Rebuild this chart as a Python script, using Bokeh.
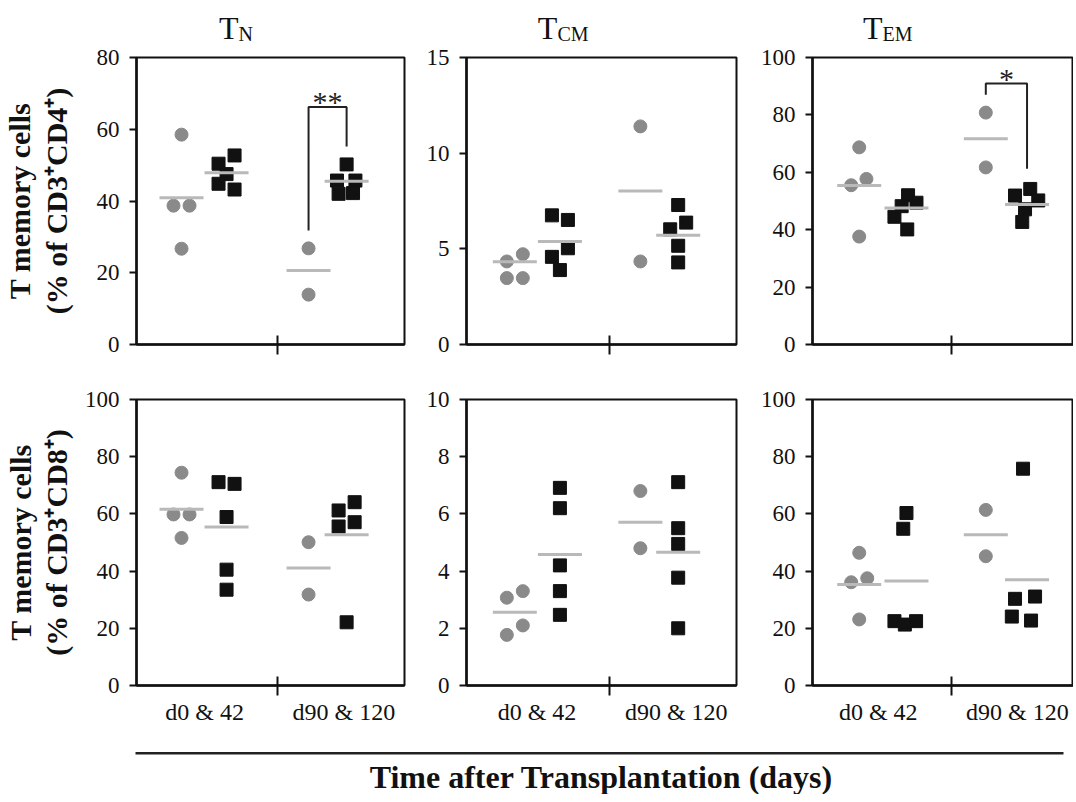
from bokeh.plotting import figure
from bokeh.layouts import column, row
from bokeh.models import Range1d, FixedTicker
from bokeh.embed import file_html
from bokeh.resources import INLINE
from bokeh.core.properties import value

# ---------------- data ----------------
group_labels = ["d0 & 42", "d90 & 120"]
subset_names = ["N", "CM", "EM"]
row_labels = ["T memory cells\n(% of CD3\u207aCD4\u207a)",
              "T memory cells\n(% of CD3\u207aCD8\u207a)"]
x_title = "Time after Transplantation (days)"

y_max = [[80, 15, 100], [100, 10, 100]]
y_ticks = [[[0, 20, 40, 60, 80], [0, 5, 10, 15], [0, 20, 40, 60, 80, 100]],
           [[0, 20, 40, 60, 80, 100], [0, 2, 4, 6, 8, 10], [0, 20, 40, 60, 80, 100]]]

# CD4+  T_N
cd4_tn_circ_d0 = [58.5, 38.7, 38.7, 26.7]
cd4_tn_sq_d0 = [52.7, 50.4, 47.5, 44.8, 43.2]
cd4_tn_circ_d90 = [26.8, 13.9]
cd4_tn_sq_d90 = [50.2, 45.7, 45.7, 42.0, 42.2]
cd4_tn_means = [40.9, 47.9, 20.6, 45.5]
# CD4+  T_CM
cd4_tcm_circ_d0 = [4.72, 4.34, 3.47, 3.47]
cd4_tcm_sq_d0 = [6.75, 6.51, 5.03, 4.58, 3.89]
cd4_tcm_circ_d90 = [11.4, 4.34]
cd4_tcm_sq_d90 = [7.29, 6.37, 6.02, 5.16, 4.29]
cd4_tcm_means = [4.32, 5.38, 8.02, 5.71]
# CD4+  T_EM
cd4_tem_circ_d0 = [68.7, 57.7, 55.5, 37.6]
cd4_tem_sq_d0 = [52.0, 49.4, 48.2, 44.5, 40.1]
cd4_tem_circ_d90 = [80.8, 61.7]
cd4_tem_sq_d90 = [54.2, 51.9, 50.2, 47.1, 42.7]
cd4_tem_means = [55.4, 47.6, 71.7, 48.8]
# CD8+  T_N
cd8_tn_circ_d0 = [74.4, 59.8, 59.8, 51.6]
cd8_tn_sq_d0 = [71.1, 70.5, 58.9, 40.5, 33.5]
cd8_tn_circ_d90 = [50.1, 31.8]
cd8_tn_sq_d90 = [64.1, 61.2, 57.1, 55.6, 22.1]
cd8_tn_means = [61.6, 55.4, 41.1, 52.7]
# CD8+  T_CM
cd8_tcm_circ_d0 = [3.30, 3.07, 2.10, 1.77]
cd8_tcm_sq_d0 = [6.91, 6.20, 4.20, 3.30, 2.47]
cd8_tcm_circ_d90 = [6.80, 4.80]
cd8_tcm_sq_d90 = [7.11, 5.50, 4.95, 3.77, 2.00]
cd8_tcm_means = [2.56, 4.58, 5.71, 4.66]
# CD8+  T_EM
cd8_tem_circ_d0 = [46.4, 37.5, 36.1, 23.1]
cd8_tem_sq_d0 = [60.3, 54.8, 22.5, 21.3, 22.5]
cd8_tem_circ_d90 = [61.4, 45.2]
cd8_tem_sq_d90 = [75.8, 31.1, 30.3, 24.1, 22.7]
cd8_tem_means = [35.3, 36.5, 52.7, 37.0]

# significance brackets: (stars, left-leg bottom, bracket top, right-leg bottom, star baseline)
sig_cd4_tn = ["**", 31.8, 66.2, 55.2, 67.6]
sig_cd4_tem = ["*", 87.0, 90.9, 61.2, 92.8]

# ---------------- layout / style (not data) ----------------
jit_cd4_tn = [[0, -1, 1, 0], [1, -1, 0, -1, 1], [0, 0], [0, -1.2, 1.1, -1, 0.8]]
jit_cd4_tcm = [[1, -1, -1, 1], [-1, 1, 1, -1, 0], [0, 0], [0, 1, -1, 0, 0]]
jit_cd4_tem = [[0, 0.9, -1, 0], [0.2, 1.25, -0.6, -1.5, 0.1], [0, 0], [0.4, -1.5, 1.4, -0.25, -0.6]]
jit_cd8_tn = [[0, -1, 1, 0], [-1, 1, 0, 0, 0], [0, 0], [1, -1, 1, -1, 0]]
jit_cd8_tcm = [[1, -1, 1, -1], [0, 0, 0, 0, 0], [0, 0], [0, 0, 0, 0, 0]]
jit_cd8_tem = [[0, 1, -1, 0], [0, -0.4, -1.5, -0.2, 1.2], [0, 0], [-0.5, 1, -1.5, -1.9, 0.5]]

panels = [
    [(cd4_tn_circ_d0, cd4_tn_sq_d0, cd4_tn_circ_d90, cd4_tn_sq_d90, cd4_tn_means, jit_cd4_tn, sig_cd4_tn),
     (cd4_tcm_circ_d0, cd4_tcm_sq_d0, cd4_tcm_circ_d90, cd4_tcm_sq_d90, cd4_tcm_means, jit_cd4_tcm, None),
     (cd4_tem_circ_d0, cd4_tem_sq_d0, cd4_tem_circ_d90, cd4_tem_sq_d90, cd4_tem_means, jit_cd4_tem, sig_cd4_tem)],
    [(cd8_tn_circ_d0, cd8_tn_sq_d0, cd8_tn_circ_d90, cd8_tn_sq_d90, cd8_tn_means, jit_cd8_tn, None),
     (cd8_tcm_circ_d0, cd8_tcm_sq_d0, cd8_tcm_circ_d90, cd8_tcm_sq_d90, cd8_tcm_means, jit_cd8_tcm, None),
     (cd8_tem_circ_d0, cd8_tem_sq_d0, cd8_tem_circ_d90, cd8_tem_sq_d90, cd8_tem_means, jit_cd8_tem, None)],
]

SERIF = "Liberation Serif"
GREY = "#8a8a8a"
MEAN_C = "#b9b9b9"
INK = "#111111"

FRAME_W = [268, 270, 261]
FRAME_H = [287, 286]
MB_L = [127, 45, 56]
MB_R = [17, 20, 0]
MB_T = [11, 16]
MB_B = [39, 56]
TOTAL_W = sum(FRAME_W) + sum(MB_L) + sum(MB_R)
BASE_X = [[0.168, 0.336, 0.642, 0.784],
          [0.179, 0.346, 0.644, 0.784],
          [0.179, 0.360, 0.664, 0.822]]
JU = [0.0299, 0.0296, 0.0307]
TICK_X = [0.525, 0.530, 0.533]
LABEL_X = [[0.254, 0.774], [0.261, 0.777], [0.252, 0.785]]
TITLE_X = [0.414, 0.370, 0.303]
YLAB_STANDOFF = [21, 9]
HEAD_H = 46
FOOT_H = 53


def make_panel(r, c):
    circ0, sq0, circ1, sq1, means, jit, sig = panels[r][c]
    ym = y_max[r][c]
    p = figure(frame_width=FRAME_W[c], frame_height=FRAME_H[r],
               x_range=Range1d(0, 1), y_range=Range1d(0, ym),
               toolbar_location=None, output_backend="svg",
               min_border_left=MB_L[c], min_border_right=MB_R[c],
               min_border_top=MB_T[r], min_border_bottom=MB_B[r],
               background_fill_color="white", border_fill_color="white")
    p.grid.visible = False
    p.outline_line_color = INK
    p.outline_line_width = 2

    bx = BASE_X[c]
    ju = JU[c]
    series = [circ0, sq0, circ1, sq1]
    for k, vals in enumerate(series):
        xs = [bx[k] + ju * j for j in jit[k]]
        if k % 2 == 0:
            p.scatter(xs, vals, marker="circle", size=13, fill_color=GREY, line_color=GREY)
        else:
            p.scatter(xs, vals, marker="square", size=13, fill_color=INK, line_color=INK)
    p.scatter(bx, means, marker="dash", size=44, line_color=MEAN_C, line_width=3)

    if sig is not None:
        stars, yl, yt, yr, ys = sig
        p.line([bx[2], bx[2], bx[3], bx[3]], [yl, yt, yt, yr], line_color="#222222", line_width=2)
        p.text([(bx[2] + bx[3]) / 2], [ys], text=[stars], text_align="center",
               text_baseline="alphabetic", text_font=value(SERIF), text_font_size="30px",
               text_color="#222222")

    ya = p.yaxis[0]
    ya.ticker = FixedTicker(ticks=y_ticks[r][c], minor_ticks=[])
    ya.axis_line_width = 2.5
    ya.axis_line_color = INK
    ya.major_tick_out = 7
    ya.major_tick_in = 0
    ya.major_tick_line_width = 2
    ya.major_tick_line_color = INK
    ya.major_label_standoff = 10
    ya.major_label_text_font = SERIF
    ya.major_label_text_font_size = "23px"
    ya.major_label_text_color = INK
    if c == 0:
        ya.axis_label = row_labels[r]
        ya.axis_label_text_font = SERIF
        ya.axis_label_text_font_style = "bold"
        ya.axis_label_text_font_size = "30px"
        ya.axis_label_text_line_height = 1.1
        ya.axis_label_text_color = INK
        ya.axis_label_standoff = YLAB_STANDOFF[r]

    xa = p.xaxis[0]
    xa.ticker = FixedTicker(ticks=LABEL_X[c], minor_ticks=[TICK_X[c]])
    xa.axis_line_width = 2.5
    xa.axis_line_color = INK
    xa.major_tick_in = 0
    xa.major_tick_out = 0
    xa.minor_tick_in = 9
    xa.minor_tick_out = 10
    xa.minor_tick_line_width = 2
    xa.minor_tick_line_color = INK
    if r == 1:
        xa.major_label_overrides = {LABEL_X[c][0]: group_labels[0], LABEL_X[c][1]: group_labels[1]}
        xa.major_label_text_font = SERIF
        xa.major_label_text_font_size = "24px"
        xa.major_label_text_color = INK
        xa.major_label_standoff = 3
    else:
        xa.major_label_overrides = {LABEL_X[c][0]: "", LABEL_X[c][1]: ""}
        xa.major_label_text_font_size = "1px"
        xa.major_label_standoff = 0
    return p


def blank(h):
    f = figure(width=TOTAL_W, height=h, x_range=Range1d(0, TOTAL_W), y_range=Range1d(0, h),
               toolbar_location=None, output_backend="svg",
               x_axis_location=None, y_axis_location=None,
               min_border=0, min_border_left=0, min_border_right=0,
               min_border_top=0, min_border_bottom=0)
    f.grid.visible = False
    f.outline_line_color = None
    return f


# panel titles T_N, T_CM, T_EM
head = blank(HEAD_H)
tx = []
left = 0
for c in range(3):
    tx.append(left + MB_L[c] + TITLE_X[c] * FRAME_W[c])
    left += MB_L[c] + FRAME_W[c] + MB_R[c]
head.text(tx, [19] * 3, text=["T"] * 3, text_align="right", text_baseline="alphabetic",
          text_font=value(SERIF), text_font_size="32px", text_color=INK)
head.text(tx, [13] * 3, text=subset_names, text_align="left", text_baseline="alphabetic",
          text_font=value(SERIF), text_font_size="20px", text_color=INK)

top = row(*[make_panel(0, c) for c in range(3)])
bottom = row(*[make_panel(1, c) for c in range(3)])

foot = blank(FOOT_H)
foot.segment(x0=[135], y0=[FOOT_H - 11.7], x1=[TOTAL_W - 1], y1=[FOOT_H - 11.7],
             line_color="#222222", line_width=2.5)
foot.text([601], [18], text=[x_title], text_align="center", text_baseline="alphabetic",
          text_font=value(SERIF), text_font_style="bold", text_font_size="32px", text_color=INK)

layout = column(head, top, bottom, foot)

with open("out.html", "w") as f:
    f.write(file_html(layout, INLINE))
